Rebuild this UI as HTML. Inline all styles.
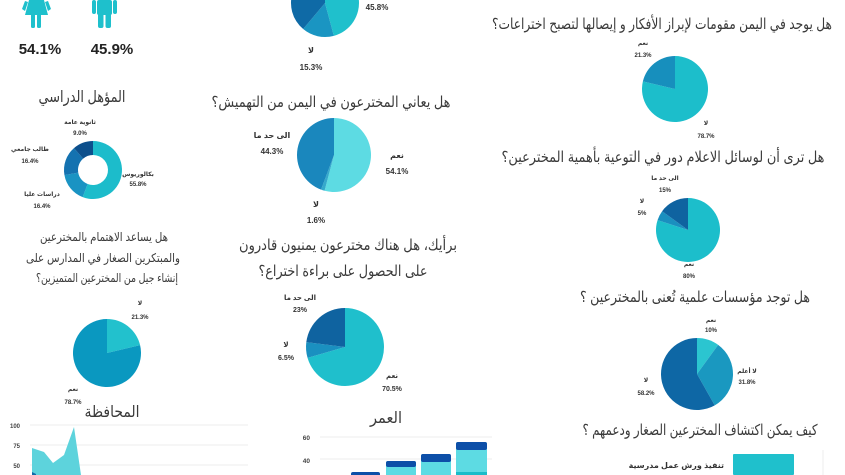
<!DOCTYPE html>
<html><head><meta charset="utf-8"><style>
html,body{margin:0;padding:0;background:#fff;}
svg{display:block;font-family:"Liberation Sans","DejaVu Sans",sans-serif;}
.t{font-size:15px;fill:#3a3a3a;text-anchor:middle;}
.l{font-size:8px;font-weight:bold;fill:#333;text-anchor:middle;}
.ax{font-size:7px;font-weight:bold;fill:#444;text-anchor:end;}
</style></head><body>
<svg id="s" width="845" height="475" viewBox="0 0 845 475" xmlns="http://www.w3.org/2000/svg">
<g fill="#1ec0cc">
<path d="M29 0 H44 L48 15 H25 Z"/><rect x="31" y="14" width="4" height="14" rx="1.5"/><rect x="37" y="14" width="4" height="14" rx="1.5"/>
<path d="M25 1 L22 9 L25 11 L28 2Z"/><path d="M48 1 L51 9 L48 11 L45 2Z"/>
<rect x="97" y="0" width="15" height="15" rx="2"/><rect x="98" y="12" width="5.5" height="16" rx="2"/><rect x="105.5" y="12" width="5.5" height="16" rx="2"/>
<rect x="92" y="0" width="4" height="14" rx="2"/><rect x="113" y="0" width="4" height="14" rx="2"/>
</g>
<text x="40" y="54" style="font-size:15px;font-weight:bold;fill:#222" text-anchor="middle">54.1%</text>
<text x="112" y="54" style="font-size:15px;font-weight:bold;fill:#222" text-anchor="middle">45.9%</text>

<text class="t" x="82" y="102" style="font-size:16px" textLength="87" lengthAdjust="spacingAndGlyphs">المؤهل الدراسي</text>
<text class="l" x="80" y="124" style="font-size:6px">ثانوية عامة</text><text class="l" x="80" y="135" style="font-size:6px">9.0%</text>
<text class="l" x="30" y="151" style="font-size:6px">طالب جامعي</text><text class="l" x="30" y="163" style="font-size:6px">16.4%</text>
<text class="l" x="42" y="196" style="font-size:6px">دراسات عليا</text><text class="l" x="42" y="208" style="font-size:6px">16.4%</text>
<text class="l" x="138" y="176" style="font-size:6px">بكالوريوس</text><text class="l" x="138" y="186" style="font-size:6px">55.8%</text>

<text class="t" x="104" y="241" style="font-size:12px" textLength="128" lengthAdjust="spacingAndGlyphs">هل يساعد الاهتمام بالمخترعين</text>
<text class="t" x="103" y="262" style="font-size:12px" textLength="154" lengthAdjust="spacingAndGlyphs">والمبتكرين الصغار في المدارس على</text>
<text class="t" x="107" y="282" style="font-size:12px" textLength="142" lengthAdjust="spacingAndGlyphs">إنشاء جيل من المخترعين المتميزين؟</text>
<text class="l" x="140" y="305" style="font-size:6px">لا</text><text class="l" x="140" y="319" style="font-size:6px">21.3%</text>
<text class="l" x="73" y="391" style="font-size:6px">نعم</text><text class="l" x="73" y="404" style="font-size:6px">78.7%</text>

<text class="t" x="112" y="417" style="font-size:16px" textLength="55" lengthAdjust="spacingAndGlyphs">المحافظة</text>
<g stroke="#eee" stroke-width="1"><line x1="30" y1="425" x2="248" y2="425"/><line x1="30" y1="445" x2="248" y2="445"/><line x1="30" y1="465" x2="248" y2="465"/></g>
<text class="ax" x="20" y="428" style="font-size:6px">100</text><text class="ax" x="20" y="448" style="font-size:6px">75</text><text class="ax" x="20" y="468" style="font-size:6px">50</text>
<path d="M32 448 L44 452 L53 463 L64 455 L74 427 L81 475 L32 475Z" fill="#5dd3dc"/>
<path d="M32 472 L36 474 L36 475 L32 475Z" fill="#0e6aa8"/>

<text class="l" x="377" y="10">45.8%</text>
<text class="l" x="311" y="53">لا</text><text class="l" x="311" y="70">15.3%</text>
<text class="t" x="331" y="107" textLength="239" lengthAdjust="spacingAndGlyphs">هل يعاني المخترعون في اليمن من التهميش؟</text>
<text class="l" x="272" y="138">الى حد ما</text><text class="l" x="272" y="154">44.3%</text>
<text class="l" x="397" y="158">نعم</text><text class="l" x="397" y="174">54.1%</text>
<text class="l" x="316" y="207">لا</text><text class="l" x="316" y="223">1.6%</text>
<text class="t" x="348" y="250" textLength="218" lengthAdjust="spacingAndGlyphs">برأيك، هل هناك مخترعون يمنيون قادرون</text>
<text class="t" x="343" y="276" textLength="169" lengthAdjust="spacingAndGlyphs">على الحصول على براءة اختراع؟</text>
<text class="l" x="300" y="300" style="font-size:7px">الى حد ما</text><text class="l" x="300" y="312" style="font-size:7px">23%</text>
<text class="l" x="286" y="347" style="font-size:7px">لا</text><text class="l" x="286" y="360" style="font-size:7px">6.5%</text>
<text class="l" x="392" y="378" style="font-size:7px">نعم</text><text class="l" x="392" y="391" style="font-size:7px">70.5%</text>
<text class="t" x="386" y="423" style="font-size:16px" textLength="32" lengthAdjust="spacingAndGlyphs">العمر</text>
<g stroke="#eee"><line x1="320" y1="437" x2="492" y2="437"/><line x1="320" y1="459" x2="492" y2="459"/></g>
<text class="ax" x="310" y="440" style="font-size:6.5px">60</text><text class="ax" x="310" y="463" style="font-size:6.5px">40</text>
<g>
<rect x="351" y="472" width="29" height="5" rx="2" fill="#0d4fa8"/>
<rect x="386" y="461" width="30" height="16" rx="2" fill="#5ddbe3"/><rect x="386" y="461" width="30" height="6" rx="2" fill="#0d4fa8"/>
<rect x="421" y="454" width="30" height="23" rx="2" fill="#5ddbe3"/><rect x="421" y="454" width="30" height="8" rx="2" fill="#0d4fa8"/>
<rect x="456" y="442" width="31" height="35" rx="2" fill="#5ddbe3"/><rect x="456" y="442" width="31" height="8" rx="2" fill="#0d4fa8"/><rect x="456" y="472" width="31" height="5" fill="#1bbcc9"/>
</g>

<text class="t" x="662" y="29" textLength="340" lengthAdjust="spacingAndGlyphs">هل يوجد في اليمن مقومات لإبراز الأفكار و إيصالها لتصبح اختراعات؟</text>
<text class="l" x="643" y="45" style="font-size:6px">نعم</text><text class="l" x="643" y="57" style="font-size:6px">21.3%</text>
<text class="l" x="706" y="125" style="font-size:6px">لا</text><text class="l" x="706" y="138" style="font-size:6px">78.7%</text>
<text class="t" x="663" y="162" textLength="323" lengthAdjust="spacingAndGlyphs">هل ترى أن لوسائل الاعلام دور في التوعية بأهمية المخترعين؟</text>
<text class="l" x="665" y="180" style="font-size:6px">الى حد ما</text><text class="l" x="665" y="192" style="font-size:6px">15%</text>
<text class="l" x="642" y="203" style="font-size:6px">لا</text><text class="l" x="642" y="215" style="font-size:6px">5%</text>
<text class="l" x="689" y="266" style="font-size:6px">نعم</text><text class="l" x="689" y="278" style="font-size:6px">80%</text>
<text class="t" x="695" y="302" textLength="230" lengthAdjust="spacingAndGlyphs">هل توجد مؤسسات علمية تُعنى بالمخترعين ؟</text>
<text class="l" x="711" y="322" style="font-size:6px">نعم</text><text class="l" x="711" y="332" style="font-size:6px">10%</text>
<text class="l" x="747" y="373" style="font-size:6px">لا أعلم</text><text class="l" x="747" y="384" style="font-size:6px">31.8%</text>
<text class="l" x="646" y="382" style="font-size:6px">لا</text><text class="l" x="646" y="395" style="font-size:6px">58.2%</text>
<text class="t" x="700" y="435" textLength="235" lengthAdjust="spacingAndGlyphs">كيف يمكن اكتشاف المخترعين الصغار ودعمهم ؟</text>
<rect x="733" y="454" width="61" height="21" rx="1" fill="#1fc0cc"/>
<text x="724" y="468" style="font-size:8px;font-weight:bold;fill:#333" text-anchor="end">تنفيذ ورش عمل مدرسية</text>
<line x1="823" y1="450" x2="823" y2="475" stroke="#eee"/>
<g id="pies"></g>
</svg>
<script>
function pt(cx,cy,r,a){a=a*Math.PI/180;return [cx+r*Math.sin(a),cy-r*Math.cos(a)];}
function slice(cx,cy,r,a0,a1,c,ri){
 var p0=pt(cx,cy,r,a0),p1=pt(cx,cy,r,a1),lg=(a1-a0)>180?1:0,d;
 if(ri){var q0=pt(cx,cy,ri,a0),q1=pt(cx,cy,ri,a1);
  d="M"+p0+" A"+r+" "+r+" 0 "+lg+" 1 "+p1+" L"+q1+" A"+ri+" "+ri+" 0 "+lg+" 0 "+q0+"Z";}
 else d="M"+cx+" "+cy+" L"+p0+" A"+r+" "+r+" 0 "+lg+" 1 "+p1+"Z";
 return '<path d="'+d+'" fill="'+c+'"/>';}
function pie(cx,cy,r,vals,cols,ri){var a=0,s="";for(var i=0;i<vals.length;i++){var b=a+vals[i]*3.6;s+=slice(cx,cy,r,a,Math.min(b,359.99),cols[i],ri);a=b;}return s;}
var h="";
h+=pie(93,170,29,[55.8,16.4,16.4,11.4],["#1cbccb","#1a93c3","#1472b0","#0c4f8c"],15);
h+=pie(107,353,34,[21.3,78.7],["#22c1cd","#0a98c0"]);
h+=pie(325,3,34,[45.8,15.3,38.9],["#1fc0cc","#1a95c2","#0f6aa6"]);
h+=pie(334,155,37,[54.1,1.6,44.3],["#5ddbe3","#35a9cc","#1a87bd"]);
h+=pie(345,347,39,[70.5,6.5,23],["#1fbfcc","#1a90c0","#0f63a0"]);
h+=pie(675,89,33,[78.7,21.3],["#1cbecb","#178fbd"]);
h+=pie(688,230,32,[80,5,15],["#1cbecb","#1a8fbf","#0f63a0"]);
h+=pie(697,374,36,[10,31.8,58.2],["#2bc5d0","#1a98c0","#0e67a5"]);
document.getElementById("pies").outerHTML='<g>'+h+'</g>';
</script>
</body></html>
